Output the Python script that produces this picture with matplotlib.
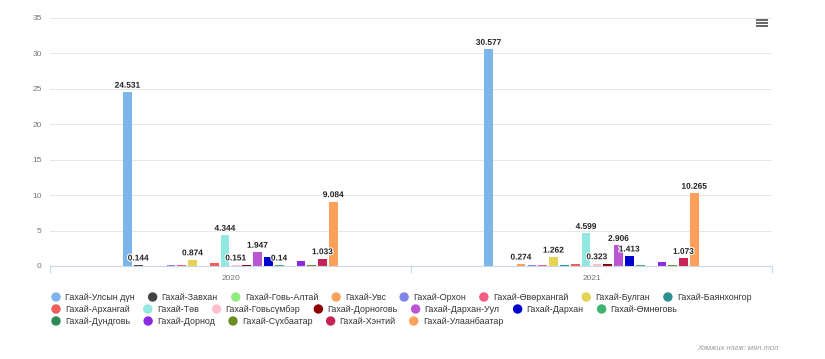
import matplotlib
matplotlib.use('Agg')
import matplotlib.pyplot as plt
import matplotlib.patheffects as pe
from matplotlib.patches import Ellipse
from matplotlib.lines import Line2D

W, H = 825, 359

years = ['2020', '2021']
series = ['Гахай-Улсын дүн', 'Гахай-Завхан', 'Гахай-Говь-Алтай', 'Гахай-Увс',
          'Гахай-Орхон', 'Гахай-Өвөрхангай', 'Гахай-Булган', 'Гахай-Баянхонгор',
          'Гахай-Архангай', 'Гахай-Төв', 'Гахай-Говьсүмбэр', 'Гахай-Дорноговь',
          'Гахай-Дархан-Уул', 'Гахай-Дархан', 'Гахай-Өмнөговь', 'Гахай-Дундговь',
          'Гахай-Дорнод', 'Гахай-Сүхбаатар', 'Гахай-Хэнтий', 'Гахай-Улаанбаатар']
values_2020 = [24.531, 0.144, None, 0.06, 0.15, 0.12, 0.874, None, 0.38, 4.344,
               0.151, 0.2, 1.947, 1.23, 0.14, None, 0.75, 0.15, 1.033, 9.084]
values_2021 = [30.577, None, None, 0.274, 0.2, 0.15, 1.262, 0.2, 0.35, 4.599,
               0.323, 0.25, 2.906, 1.413, 0.15, None, 0.62, 0.15, 1.073, 10.265]
colors = ['#7cb5ec', '#434348', '#90ed7d', '#f7a35c', '#8085e9', '#f15c80',
          '#e4d354', '#2b908f', '#f45b5b', '#91e8e1', '#ffc0cb', '#8b0000',
          '#ba55d3', '#0000cd', '#3cb371', '#2e8b57', '#8a2be2', '#6b8e23',
          '#c62456', '#ffa05a']
# series whose data label is visible (others hidden by overlap in the original)
labeled_2020 = ['Гахай-Улсын дүн', 'Гахай-Завхан', 'Гахай-Булган', 'Гахай-Төв',
                'Гахай-Говьсүмбэр', 'Гахай-Дархан-Уул', 'Гахай-Өмнөговь',
                'Гахай-Хэнтий', 'Гахай-Улаанбаатар']
labeled_2021 = ['Гахай-Улсын дүн', 'Гахай-Увс', 'Гахай-Булган', 'Гахай-Төв',
                'Гахай-Говьсүмбэр', 'Гахай-Дархан-Уул', 'Гахай-Дархан',
                'Гахай-Хэнтий', 'Гахай-Улаанбаатар']
y_ticks = [0, 5, 10, 15, 20, 25, 30, 35]
credits = 'Хэмжих нэгж: мян.тол'

plt.rcParams['font.family'] = ['Liberation Sans', 'DejaVu Sans']

fig = plt.figure(figsize=(W / 100, H / 100), dpi=100)
ax = fig.add_axes([50 / W, (H - 266) / H, (772 - 50) / W, (266 - 18) / H])

n = len(series)
slot = 0.6 / n
all_vals = [values_2020, values_2021]
all_lab = [labeled_2020, labeled_2021]
for i, name in enumerate(series):
    for j, vals in enumerate(all_vals):
        v = vals[i]
        if v is None:
            continue
        x = j - 0.3 + slot * (i + 0.5)
        ax.bar(x, v, width=slot * 0.8, color=colors[i], zorder=3, linewidth=0)
        if name in all_lab[j]:
            t = ax.annotate(f'{v:g}', (x, v), xytext=(0, 1.8), textcoords='offset points',
                            ha='center', va='bottom', fontsize=6, fontweight='bold',
                            color='#222222', zorder=5)
            t.set_path_effects([pe.withStroke(linewidth=1.5, foreground='white')])

ax.set_xlim(-0.5, 1.5)
ax.set_ylim(0, 35)
ax.set_yticks(y_ticks)
ax.set_yticklabels([str(t) for t in y_ticks], fontsize=6, color='#777777')
ax.set_xticks([0, 1])
ax.set_xticklabels(years, fontsize=6, color='#777777')
ax.set_xticks([-0.5, 0.5, 1.5], minor=True)
ax.tick_params(axis='x', which='major', length=0, pad=6.5)
ax.tick_params(axis='x', which='minor', length=5, color='#ccd6eb', width=0.8)
ax.tick_params(axis='y', length=0, pad=6)
ax.grid(axis='y', color='#e6e6e6', linewidth=0.7, zorder=0)
for s in ['top', 'right', 'left']:
    ax.spines[s].set_visible(False)
ax.spines['bottom'].set_color('#ccd6eb')
ax.spines['bottom'].set_linewidth(0.8)
ax.spines['bottom'].set_zorder(4)

# legend (flowing, Highcharts-style)
renderer = fig.canvas.get_renderer()
row_y = [297, 309, 321]
x0, xmax = 52, 756
x = x0
row = 0
for i, name in enumerate(series):
    t = fig.text(0, 0, name, fontsize=6.4, color='#333333', va='center', ha='left')
    tw = t.get_window_extent(renderer).width
    item_w = 13 + tw
    if x + item_w > xmax and x > x0:
        row += 1
        x = x0
    y = row_y[row]
    t.set_position(((x + 13) / W, 1 - y / H))
    fig.patches.append(Ellipse(((x + 4) / W, 1 - y / H), 8 / W, 8 / H,
                               transform=fig.transFigure, color=colors[i]))
    x += item_w + 14

# hamburger menu icon
for yy in [19.5, 22.5, 25.5]:
    fig.add_artist(Line2D([757 / W, 767 / W], [1 - yy / H, 1 - yy / H],
                          transform=fig.transFigure, color='#666666', linewidth=1.4))

fig.text(778 / W, 1 - 348 / H, credits, fontsize=5.5, style='italic', color='#999999',
         ha='right', va='center')

fig.savefig('out.png', dpi=100, facecolor='white')
